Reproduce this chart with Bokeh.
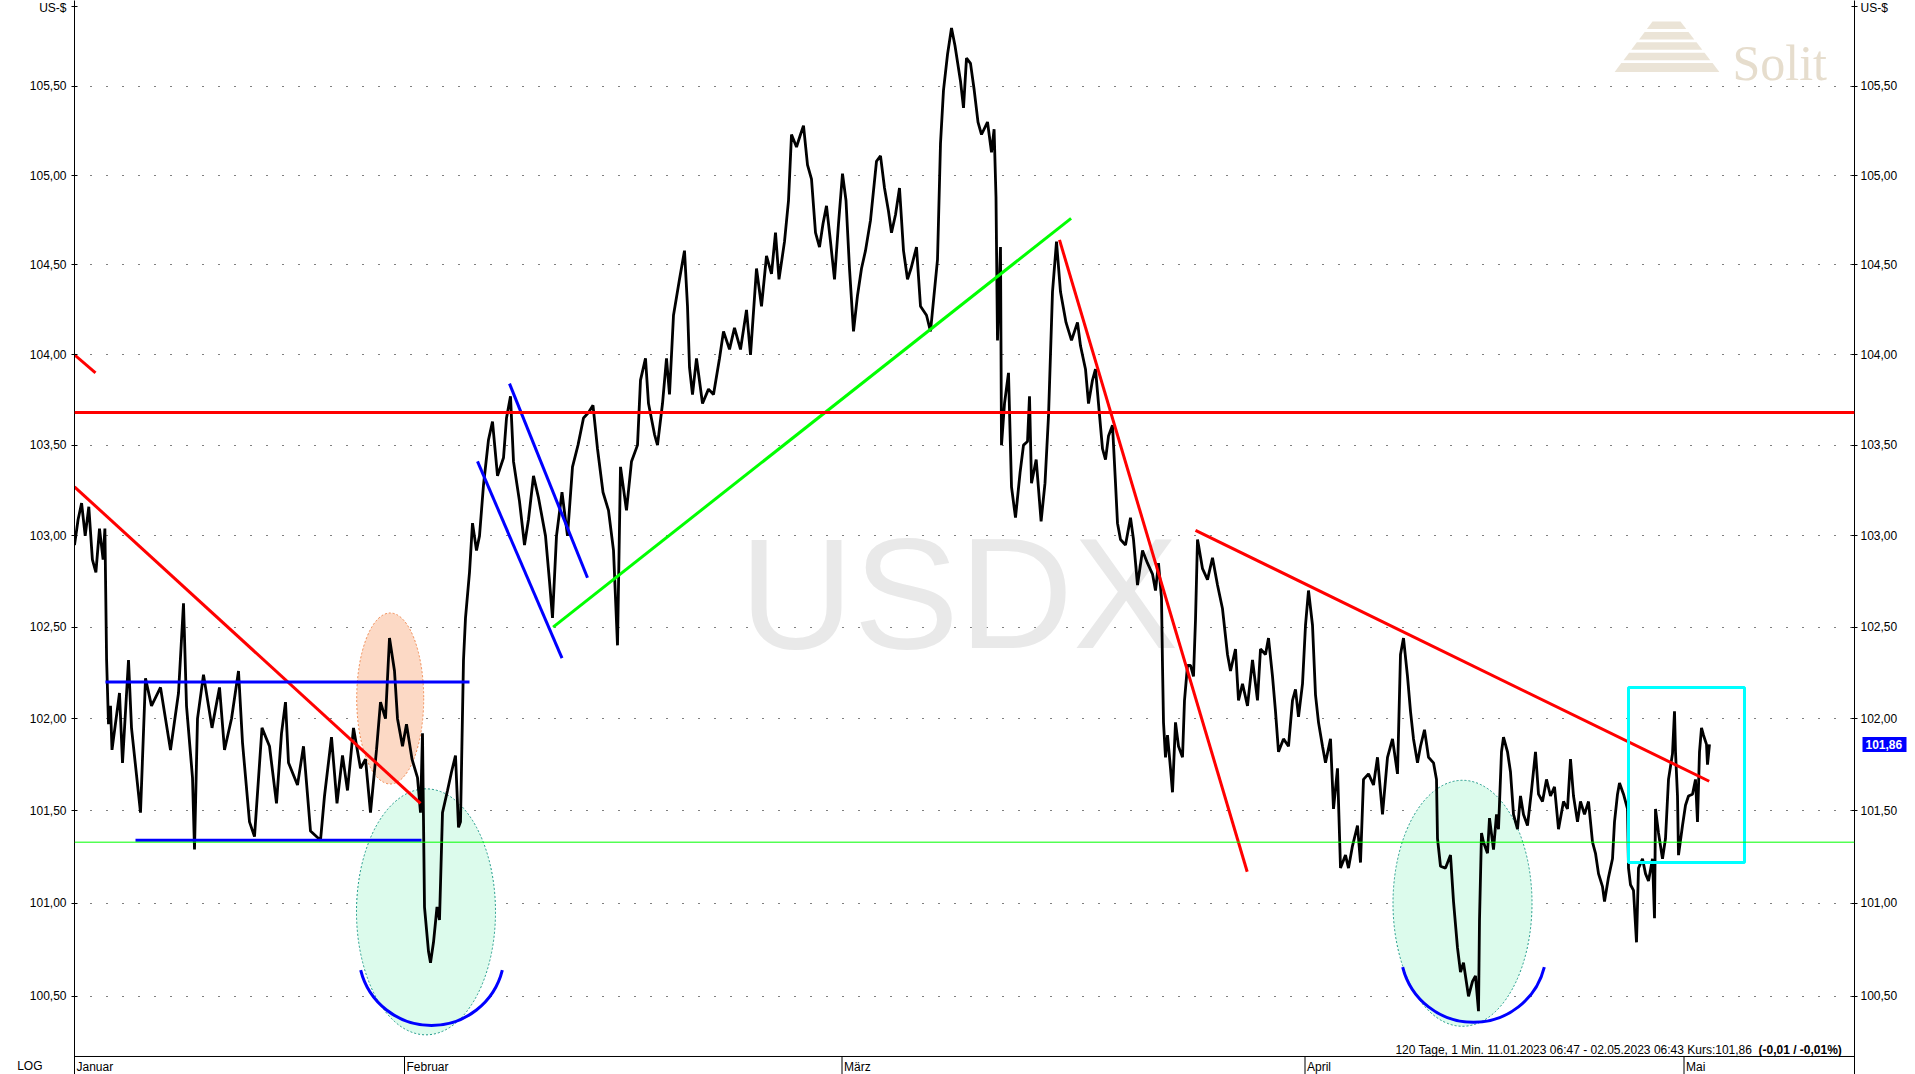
import math
from bokeh.plotting import figure
from bokeh.models import Range1d, LogAxis, FixedTicker, CustomJSTickFormatter, Label, Span
from bokeh.embed import file_html
from bokeh.resources import INLINE
from bokeh.core.properties import value

FONT = "Liberation Sans"

# ---------------- data ----------------
Y_TICKS = [100.5, 101.0, 101.5, 102.0, 102.5, 103.0, 103.5, 104.0, 104.5, 105.0, 105.5]
MONTHS = ["Januar", "Februar", "März", "April", "Mai"]
MONTH_START = [0, 330, 767.5, 1230.5, 1609.5]
X_END = 1780

T = [0, 3.6, 7.1, 10.7, 14.3, 17.9, 21.4, 25, 28.6, 30.4, 32.1, 34, 36, 37.5, 45, 48, 54, 57, 66, 71,
     77, 86, 96, 104, 109, 112, 118, 120, 123, 129, 137.5, 145, 150, 157, 164, 168, 175, 180, 187.5, 195,
     202, 207, 211, 214, 223, 229, 236, 246, 250, 257, 262.5, 268, 273, 279, 286, 291, 296, 302, 306, 311,
     315, 320, 323, 328, 332, 337.5, 343, 346, 348, 350, 354, 356, 359, 362.5, 365, 368, 373, 377, 381, 384,
     386, 389, 391, 395, 398, 402, 405, 409, 414, 418, 423, 429, 432, 436, 439, 445, 450, 454, 459, 464,
     471, 475, 478, 482, 487.5, 493, 498, 503.5, 509, 514, 518.5, 523, 528.5, 534, 539, 543, 546, 552, 557,
     563, 566, 571, 574, 580, 583, 588, 592, 595, 599, 605, 610, 613, 615, 618, 622, 628, 634, 639, 645,
     649, 655, 660, 666, 672, 676, 682, 687, 692, 697, 701, 704.5, 710, 714, 717, 722, 726, 729, 733, 737,
     741, 745, 748.5, 752, 756, 760, 764, 768, 771.5, 775, 779, 783, 787, 791, 796, 802, 806, 810, 814, 817,
     821, 825, 829, 833, 836.5, 842, 846, 852, 856, 859.5, 863, 866, 869, 873, 877, 880.5, 886, 889, 892, 896,
     899.7, 903.5, 907, 913, 917, 919.6, 921.5, 923, 926, 927, 930, 934, 937, 941, 945.6, 949, 953, 955, 957,
     961.7, 966.6, 970.5, 974, 978, 982, 986, 991.5, 997, 1003,
     1006, 1011, 1014, 1018, 1021, 1024, 1028, 1031, 1034, 1038, 1041, 1043, 1046, 1051, 1056, 1059, 1063,
     1068, 1073, 1078, 1081, 1084, 1087, 1088, 1089, 1091, 1093, 1096, 1098, 1101, 1104, 1108, 1110, 1113,
     1116, 1119, 1121, 1123, 1124, 1128, 1133, 1138, 1143, 1148, 1153, 1156, 1161, 1164, 1168, 1173, 1178,
     1183, 1186, 1191, 1194, 1198, 1201, 1204, 1209, 1214, 1218, 1221, 1224, 1228, 1231, 1234, 1238, 1241,
     1244, 1248, 1251, 1256, 1259, 1263, 1266, 1271, 1274, 1278, 1283, 1286, 1289, 1294, 1299, 1303, 1308,
     1313, 1318, 1323, 1326, 1329, 1333, 1336, 1339, 1343, 1346, 1350, 1354, 1359, 1362, 1363, 1366,
     1371, 1376, 1379, 1383, 1386, 1389, 1394, 1398, 1401, 1404, 1405, 1407, 1409, 1413, 1415, 1419, 1422,
     1424, 1427, 1429, 1433, 1436, 1439, 1443, 1446, 1449, 1453, 1457, 1461, 1464, 1468, 1472, 1476, 1480,
     1484, 1489, 1493, 1496, 1499, 1503, 1506, 1510, 1514, 1518, 1521, 1524, 1528, 1530, 1534, 1538, 1540,
     1543, 1545, 1549, 1553, 1554, 1556, 1559, 1562, 1564, 1568, 1571, 1574, 1578, 1580, 1581, 1584, 1588,
     1591, 1594, 1598, 1600, 1601, 1603, 1604, 1608, 1611, 1614, 1618, 1621, 1623, 1625, 1627, 1629, 1632,
     1633, 1635]

P = [102.95, 103.09, 103.18, 103.00, 103.16, 102.87, 102.80, 103.04, 102.87, 103.04, 102.32, 101.97, 102.07,
     101.83, 102.14, 101.76, 102.32, 101.95, 101.49, 102.22,
     102.07, 102.17, 101.83, 102.14, 102.63, 102.07, 101.68, 101.29, 102.00, 102.24, 101.95, 102.17, 101.83,
     102.00, 102.26, 101.87, 101.44, 101.36, 101.95, 101.85,
     101.54, 101.92, 102.09, 101.76, 101.64, 101.85, 101.39, 101.34, 101.58, 101.90, 101.54, 101.80, 101.61,
     101.95, 101.73, 101.78, 101.49, 101.83, 102.09, 102.00,
     102.44, 102.26, 102.00, 101.85, 101.97, 101.78, 101.68, 101.49, 101.92, 100.98, 100.74, 100.68, 100.79,
     100.98, 100.91, 101.49, 101.61, 101.71, 101.80, 101.41,
     101.44, 102.32, 102.55, 102.80, 103.07, 102.92, 103.00, 103.28, 103.53, 103.63, 103.33, 103.43, 103.65,
     103.77, 103.41, 103.19, 102.95, 103.09, 103.33, 103.21,
     103.00, 102.75, 102.55, 103.00, 103.24, 103.00, 103.38, 103.50, 103.65, 103.68, 103.72, 103.48, 103.24,
     103.14, 102.92, 102.40, 103.38, 103.14, 103.41,
     103.50, 103.86, 103.98, 103.73, 103.56, 103.50, 103.73, 103.98, 103.78, 104.22, 104.42, 104.58, 104.27,
     103.93, 103.78, 103.98, 103.73, 103.81, 103.78, 103.98,
     104.13, 104.03, 104.15, 104.03, 104.25, 104.00, 104.48, 104.27, 104.55, 104.45, 104.68, 104.42, 104.63,
     104.86, 105.23, 105.16, 105.23, 105.28, 105.06, 104.98,
     104.68, 104.60, 104.73, 104.83, 104.63, 104.42, 104.73, 105.01, 104.86, 104.48, 104.13, 104.33, 104.48,
     104.58, 104.75, 105.08, 105.11, 104.93, 104.80, 104.68,
     104.78, 104.93, 104.58, 104.42, 104.48, 104.60, 104.27, 104.22, 104.13, 104.33, 104.53, 105.18, 105.48,
     105.68, 105.83, 105.73, 105.53, 105.38, 105.66, 105.63,
     105.48, 105.30, 105.23, 105.30, 105.13, 105.26, 104.88, 104.08, 104.60, 103.50, 103.73, 103.90, 103.27,
     103.10, 103.35, 103.50, 103.52, 103.77, 103.29,
     103.42, 103.08, 103.29, 103.66, 104.35, 104.63, 104.35, 104.18, 104.08, 104.18,
     104.05, 103.92, 103.73, 103.86, 103.92, 103.73, 103.48, 103.42, 103.55, 103.61, 103.29, 103.07, 102.98,
     102.95, 103.10, 102.98, 102.73,
     102.92, 102.85, 102.79, 102.70, 102.85, 102.66, 102.29, 101.98, 101.79, 101.91, 101.73, 101.60, 101.98,
     101.85, 101.79, 102.10, 102.29,
     102.29, 102.23, 102.54, 102.98, 102.95, 102.82, 102.76, 102.88, 102.73, 102.60, 102.35, 102.26, 102.38,
     102.10, 102.19, 102.07, 102.32,
     102.10, 102.38, 102.35, 102.44, 102.23, 102.04, 101.82, 101.89, 101.85, 102.10, 102.16, 102.01, 102.19,
     102.51, 102.70, 102.51, 102.13,
     101.98, 101.85, 101.76, 101.89, 101.51, 101.73, 101.19, 101.26, 101.19, 101.31, 101.42, 101.22, 101.67,
     101.70, 101.64, 101.79, 101.48,
     101.79, 101.89, 101.70, 102.35, 102.44, 102.23, 102.04, 101.89, 101.76, 101.85, 101.94, 101.79, 101.76,
     101.67, 101.35, 101.20,
     101.19, 101.26, 101.01, 100.76, 100.63, 100.68, 100.50, 100.58, 100.61, 100.42, 100.91, 101.38, 101.33,
     101.27, 101.46, 101.29, 101.48,
     101.40, 101.82, 101.90, 101.82, 101.71, 101.48, 101.40, 101.58, 101.48, 101.42, 101.61, 101.82, 101.59,
     101.55, 101.67, 101.58, 101.63,
     101.40, 101.55, 101.51, 101.78, 101.58, 101.44, 101.55, 101.48, 101.55, 101.33, 101.27, 101.16, 101.09,
     101.01, 101.14, 101.24, 101.44,
     101.59, 101.65, 101.59, 101.51, 101.19, 101.10, 101.07, 100.79, 101.19, 101.24, 101.16, 101.12, 101.24,
     100.92, 101.51, 101.38, 101.24,
     101.35, 101.67, 101.81, 102.04, 101.82, 101.58, 101.26, 101.42, 101.53, 101.58, 101.59, 101.67, 101.44,
     101.82, 101.95, 101.91, 101.86,
     101.75, 101.86]

LAST_PRICE = 101.86

# horizontal levels
RESIST_LEVEL = 103.68
SUPPORT_LEVEL = 101.33

# trend lines (x, price)
RED_X = [[0, 21], [0, 346], [985, 1172.7], [1121, 1634.7]]
RED_Y = [[104.00, 103.90], [103.27, 101.54], [104.64, 101.17], [103.03, 101.66]]
BLUE_X = [[31, 395], [61, 347], [435, 513], [403, 487.5]]
BLUE_Y = [[102.20, 102.20], [101.34, 101.34], [103.84, 102.77], [103.41, 102.33]]
GREEN_X = [478.6, 996.6]
GREEN_Y = [102.50, 104.76]

# highlight box
BOX_X = [1554, 1670]
BOX_Y = [101.22, 102.17]

# highlighted zones (center x, center price)
PEACH_X, PEACH_Y = [315.7], [102.11]
MINT_X, MINT_Y = [351.5, 1388], [100.954, 101.0]
ARC_X, ARC_Y = [357, 1399], [100.735, 100.752]


def scr(yp):
    """reference pixel row -> price (used only to place decorations / texts)"""
    return 105.5 * math.exp((86 - yp) / 18738)


US_TICK = scr(6)        # position of the "US-$" unit captions
LOG_TICK = scr(1066)    # position of the "LOG" caption
STRIP_TOP = scr(1056)   # top of the month strip
MONTH_BASE = scr(1067)

# ---------------- figure ----------------
W, H = 1915, 1074
LEFT, RIGHT = 74, 61

p = figure(width=W, height=H, x_range=Range1d(0, X_END), y_range=Range1d(100.0814, 105.9853),
           y_axis_type="log", x_axis_location=None, output_backend="svg", toolbar_location=None,
           min_border_left=LEFT, min_border_right=RIGHT, min_border_top=0, min_border_bottom=0,
           background_fill_color="white", border_fill_color="white", outline_line_color=None)

fmt = CustomJSTickFormatter(args=dict(top=US_TICK), code="""
    if (Math.abs(tick - top) < 1e-6) { return 'US-$'; }
    return tick.toFixed(2).replace('.', ',');
""")


def style_axis(ax, standoff):
    ax.ticker = FixedTicker(ticks=Y_TICKS + [US_TICK])
    ax.formatter = fmt
    ax.axis_line_color = "black"
    ax.axis_line_width = 1
    ax.major_tick_in = 3
    ax.major_tick_out = 3
    ax.major_tick_line_color = "black"
    ax.minor_tick_line_color = None
    ax.major_label_text_font = FONT
    ax.major_label_text_font_size = "12px"
    ax.major_label_text_color = "black"
    ax.major_label_standoff = standoff


style_axis(p.yaxis[0], 5)
ra = LogAxis()
style_axis(ra, 3)
p.add_layout(ra, "right")

# "LOG" caption in the lower left corner (outer left axis, no line, no tick)
log_ax = LogAxis(ticker=FixedTicker(ticks=[LOG_TICK]),
                 formatter=CustomJSTickFormatter(code="return 'LOG';"),
                 axis_line_color=None, major_tick_line_color=None, minor_tick_line_color=None,
                 major_tick_in=0, major_tick_out=0, major_label_standoff=-16,
                 major_label_text_font=FONT, major_label_text_font_size="12px",
                 major_label_text_color="black")
p.add_layout(log_ax, "left")

# current price marker on the right (outer right axis: thick blue tick + white label)
px_ax = LogAxis(ticker=FixedTicker(ticks=[LAST_PRICE]),
                formatter=CustomJSTickFormatter(code="return tick.toFixed(2).replace('.', ',');"),
                axis_line_color=None, minor_tick_line_color=None,
                major_tick_line_color="#0000ff", major_tick_line_width=15, major_tick_line_cap="butt",
                major_tick_in=38, major_tick_out=6, major_label_standoff=-41,
                major_label_text_font=FONT, major_label_text_font_size="12px",
                major_label_text_font_style="bold", major_label_text_color="white")
p.add_layout(px_ax, "right")

p.xgrid.visible = False
p.ygrid.ticker = FixedTicker(ticks=Y_TICKS)
p.ygrid.grid_line_color = "black"
p.ygrid.grid_line_dash = "1 15"
p.ygrid.grid_line_width = 1

# watermark
p.text(x=[884.5], y=[scr(593)], text=["USDX"], text_font=value(FONT), text_font_size="158px",
       text_color="#e9e9e9", text_align="center", text_baseline="alphabetic")

# logo
rows = [(21, 28.5), (31.4, 38.9), (41.8, 49.3), (52.2, 59.7), (62.6, 71.5)]
lx, ly = [], []
for a, b in rows:
    la, lb = 1652 - (a - 21) * 0.75 - 74, 1652 - (b - 21) * 0.75 - 74
    ra_, rb = 1680 + (a - 21) * 0.77 - 74, 1680 + (b - 21) * 0.77 - 74
    lx.append([la, ra_, rb, lb])
    ly.append([scr(a), scr(a), scr(b), scr(b)])
p.patches(xs=lx, ys=ly, fill_color="#ebe4d7", line_color=None)
p.add_layout(Label(x=1658, y=scr(62.5), text="Solit", text_font="Liberation Serif",
                   text_font_size="50px", text_color="#e6ddcd", text_baseline="alphabetic"))

# zones
p.ellipse(x=PEACH_X, y=PEACH_Y, width=67, height=171, width_units="screen", height_units="screen",
          fill_color="#fcd9c5", line_color="#f0884f", line_dash="2 2", line_width=1)
p.ellipse(x=MINT_X, y=MINT_Y, width=139, height=246, width_units="screen", height_units="screen",
          fill_color="#dcfbec", line_color="#1f9a8a", line_dash="2 2", line_width=1)

# price series
p.line(x=T, y=P, line_color="black", line_width=2.8)

# levels and trend lines
p.add_layout(Span(location=RESIST_LEVEL, dimension="width", line_color="#ff0000", line_width=3))
p.add_layout(Span(location=SUPPORT_LEVEL, dimension="width", line_color="#00ff00", line_width=1))
p.multi_line(xs=RED_X, ys=RED_Y, line_color="#ff0000", line_width=3)
p.multi_line(xs=BLUE_X, ys=BLUE_Y, line_color="#0000ff", line_width=3)
p.line(x=GREEN_X, y=GREEN_Y, line_color="#00ff00", line_width=3)
p.quad(left=[BOX_X[0]], right=[BOX_X[1]], bottom=[BOX_Y[0]], top=[BOX_Y[1]],
       fill_color=None, line_color="#00ffff", line_width=3)
p.arc(x=ARC_X, y=ARC_Y, radius=73, radius_units="screen",
      start_angle=math.radians(194), end_angle=math.radians(346),
      line_color="#0000ff", line_width=3)

# info text
p.add_layout(Label(x=1681, y=scr(1050), text="120 Tage, 1 Min. 11.01.2023 06:47 - 02.05.2023 06:43  Kurs:101,86",
                   text_align="right", text_baseline="alphabetic", text_font=FONT, text_font_size="12px",
                   text_color="black"))
p.add_layout(Label(x=1684, y=scr(1050), text="(-0,01 / -0,01%)", text_align="left",
                   text_baseline="alphabetic", text_font=FONT, text_font_size="12px",
                   text_font_style="bold", text_color="black"))

# month strip at the bottom
p.add_layout(Span(location=STRIP_TOP, dimension="width", line_color="black", line_width=1))
p.segment(x0=MONTH_START[1:], y0=[STRIP_TOP] * 4, x1=MONTH_START[1:], y1=[100.0814] * 4,
          line_color="black", line_width=1)
p.text(x=[m + 2 for m in MONTH_START], y=[MONTH_BASE] * len(MONTHS), text=MONTHS, text_font=value(FONT),
       text_font_size="12px", text_color="black", text_baseline="alphabetic", text_align="left")

open("out.html", "w").write(file_html(p, INLINE))
